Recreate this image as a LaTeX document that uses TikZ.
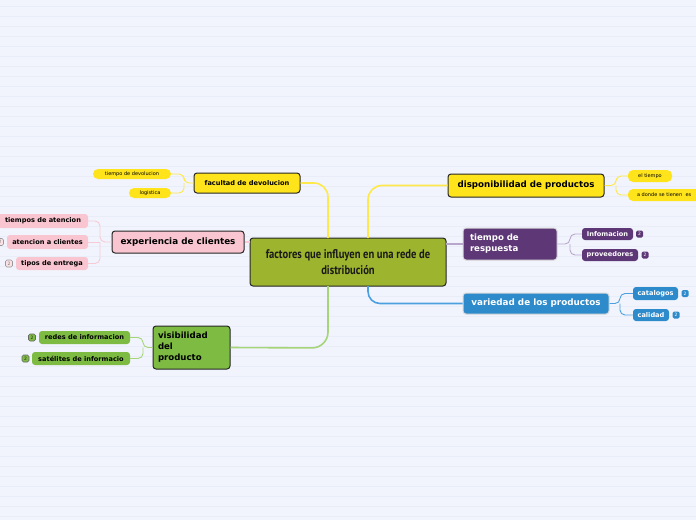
\documentclass[tikz,border=0pt]{standalone}
\usepackage{fontspec}
\setmainfont{DejaVu Sans}
\newfontfamily\cfont[FakeStretch=0.845]{PT Sans}
\definecolor{bg}{HTML}{F1F4FD}
\definecolor{bgline}{HTML}{E9EDF8}
\definecolor{yel}{HTML}{FFE41C}
\definecolor{pinkc}{HTML}{F8C5D0}
\definecolor{olive}{HTML}{9DB42E}
\definecolor{grn}{HTML}{7DBB42}
\definecolor{purp}{HTML}{5E3776}
\definecolor{blu}{HTML}{2D8BCB}
\definecolor{lyel}{HTML}{FFE84A}
\definecolor{lpink}{HTML}{F7CAD5}
\definecolor{lgrn}{HTML}{A6D478}
\definecolor{lpurp}{HTML}{B9A6CB}
\definecolor{lblu}{HTML}{4DA0E0}
\definecolor{bord}{HTML}{262626}
\tikzset{
  box/.style={draw=bord, line width=1pt, rounded corners=3pt, inner sep=0pt, anchor=center},
  wbox/.style={draw=white!85!black, line width=1pt, rounded corners=3pt, inner sep=0pt, anchor=center, text=white},
  leaf/.style={rounded corners=3pt, inner sep=0pt, anchor=center, font=\fontsize{6.6}{8}\selectfont\bfseries},
  pill/.style={rounded corners=5pt, fill=yel, inner sep=0pt, anchor=center, font=\fontsize{5}{6}\selectfont},
  badge/.style={rounded corners=1.5pt, minimum width=7pt, minimum height=7pt, inner sep=0pt, line width=0.6pt, font=\fontsize{4.5}{5}\selectfont},
  mainline/.style={line width=1.6pt},
  subline/.style={line width=0.9pt, rounded corners=5pt},
}
\begin{document}
\begin{tikzpicture}[x=1pt,y=-1pt]
\useasboundingbox (0,0) rectangle (696,520);
\clip (0,0) rectangle (696,520);
\fill[bg] (0,0) rectangle (696,520);
\foreach \k in {0,...,51} {\draw[bgline, line width=0.6pt] (0,6+10*\k) -- (696,6+10*\k);}

% center
\node[box, fill=olive, minimum width=196pt, minimum height=48pt, align=center,
  font=\cfont\bfseries\fontsize{12.5}{15.5}\selectfont, text=black!90] (c) at (348,262)
  {factores que influyen en una rede de\\distribución};

% left-top: facultad
\node[box, fill=yel, minimum width=106pt, minimum height=20pt, font=\fontsize{6.6}{8}\selectfont\bfseries] (fac) at (247,183) {facultad de devolucion};
\node[pill, minimum width=78pt, minimum height=10pt] (tdev) at (132,174) {tiempo de devolucion};
\node[pill, minimum width=42pt, minimum height=10pt] (log) at (150,193) {logistica};

% experiencia
\node[box, fill=pinkc, minimum width=132pt, minimum height=22pt, font=\fontsize{8.8}{10}\selectfont\bfseries] (exp) at (178,242) {experiencia de clientes};
\node[leaf, fill=pinkc, minimum width=90pt, minimum height=14pt] (tat) at (43,221) {tiempos de atencion};
\node[leaf, fill=pinkc, minimum width=81pt, minimum height=14pt] (atc) at (47.5,242) {atencion a clientes};
\node[leaf, fill=pinkc, minimum width=72pt, minimum height=13pt] (tip) at (52,263.5) {tipos de entrega};
\node[badge, draw=black!40, fill=pinkc!50, text=black!55] (b1) at (0,242) {2};
\node[badge, draw=black!40, fill=pinkc!50, text=black!55] (b2) at (9,263.5) {2};

% visibilidad
\node[box, fill=grn, minimum width=77pt, minimum height=43pt, text width=67pt, align=left,
  font=\fontsize{8.6}{11}\selectfont\bfseries] (vis) at (191.5,347.5) {visibilidad\\del\\producto};
\node[leaf, fill=grn, minimum width=91pt, minimum height=13pt] (red) at (84.5,337.5) {redes de informacion};
\node[leaf, fill=grn, minimum width=98pt, minimum height=13pt] (sat) at (81,358.5) {satélites de informacio};
\node[badge, draw=bord!70, fill=grn, text=bord] (b3) at (32,337.5) {2};
\node[badge, draw=bord!70, fill=grn, text=bord] (b4) at (25.5,358.5) {2};

% disponibilidad
\node[box, fill=yel, minimum width=156pt, minimum height=23pt, font=\fontsize{8.7}{10}\selectfont\bfseries] (disp) at (526,185.5) {disponibilidad de productos};
\node[pill, minimum width=44pt, minimum height=12pt] (elt) at (650,176) {el tiempo};
\node[pill, minimum width=92pt, minimum height=12pt, text width=76pt, align=left] (adon) at (674,195) {\hspace*{1pt}a donde se tienen\ \ es};

% tiempo de respuesta
\node[wbox, fill=purp, minimum width=94pt, minimum height=32pt, text width=80pt, align=left,
  font=\fontsize{8.6}{11}\selectfont\bfseries] (tres) at (510,244) {tiempo de\\respuesta};
\node[leaf, fill=purp, text=white, minimum width=51pt, minimum height=12pt] (inf) at (607.5,234) {Infomacion};
\node[leaf, fill=purp, text=white, minimum width=56pt, minimum height=12pt] (prov) at (610,255) {proveedores};
\node[badge, fill=purp, text=white] (b5) at (639.5,234) {2};
\node[badge, fill=purp, text=white] (b6) at (645,255) {2};

% variedad
\node[wbox, fill=blu, minimum width=146pt, minimum height=21pt, font=\fontsize{8.8}{10}\selectfont\bfseries] (var) at (536,303.5) {variedad de los productos};
\node[leaf, fill=blu, text=white, minimum width=45pt, minimum height=13pt] (cat) at (655.5,293.5) {catalogos};
\node[leaf, fill=blu, text=white, minimum width=36pt, minimum height=12pt] (cal) at (651,315) {calidad};
\node[badge, fill=blu, text=white] (b7) at (685,293.5) {2};
\node[badge, fill=blu, text=white] (b8) at (676,315) {2};

% main connectors
\draw[mainline, lyel, rounded corners=14pt] (fac.east) -- (328,183) -- (328,238);
\draw[mainline, lgrn, rounded corners=16pt] (vis.east) -- (328,348) -- (328,286);
\draw[mainline, lyel, rounded corners=14pt] (368,238) -- (368,185.5) -- (disp.west);
\draw[mainline, lblu, rounded corners=12pt] (368,286) -- (368,303.5) -- (var.west);
\draw[mainline, lpurp] (446,244) -- (tres.west |- 0,244);
\draw[mainline, lpink] (exp.east) -- (250,242);

% sub connectors
\draw[subline, lyel] (fac.west) -- (184,183) -- (184,174) -- (tdev.east);
\draw[subline, lyel] (184,183) -- (184,193) -- (log.east);
\draw[subline, lpink] (exp.west) -- (100,242) -- (100,221) -- (tat.east);
\draw[subline, lpink] (100,242) -- (100,263.5) -- (tip.east);
\draw[subline, lpink] (100,242) -- (atc.east);
\draw[subline, lgrn] (vis.west) -- (143,347.5) -- (143,337.5) -- (red.east);
\draw[subline, lgrn] (143,347.5) -- (143,358.5) -- (sat.east);
\draw[subline, lyel] (disp.east) -- (616,185.5) -- (616,176) -- (elt.west);
\draw[subline, lyel] (616,185.5) -- (616,195) -- (adon.west);
\draw[subline, lpurp] (tres.east) -- (570,244) -- (570,234) -- (inf.west);
\draw[subline, lpurp] (570,244) -- (570,255) -- (prov.west);
\draw[subline, lblu] (var.east) -- (620,303.5) -- (620,293.5) -- (cat.west);
\draw[subline, lblu] (620,303.5) -- (620,315) -- (cal.west);
\end{tikzpicture}
\end{document}
